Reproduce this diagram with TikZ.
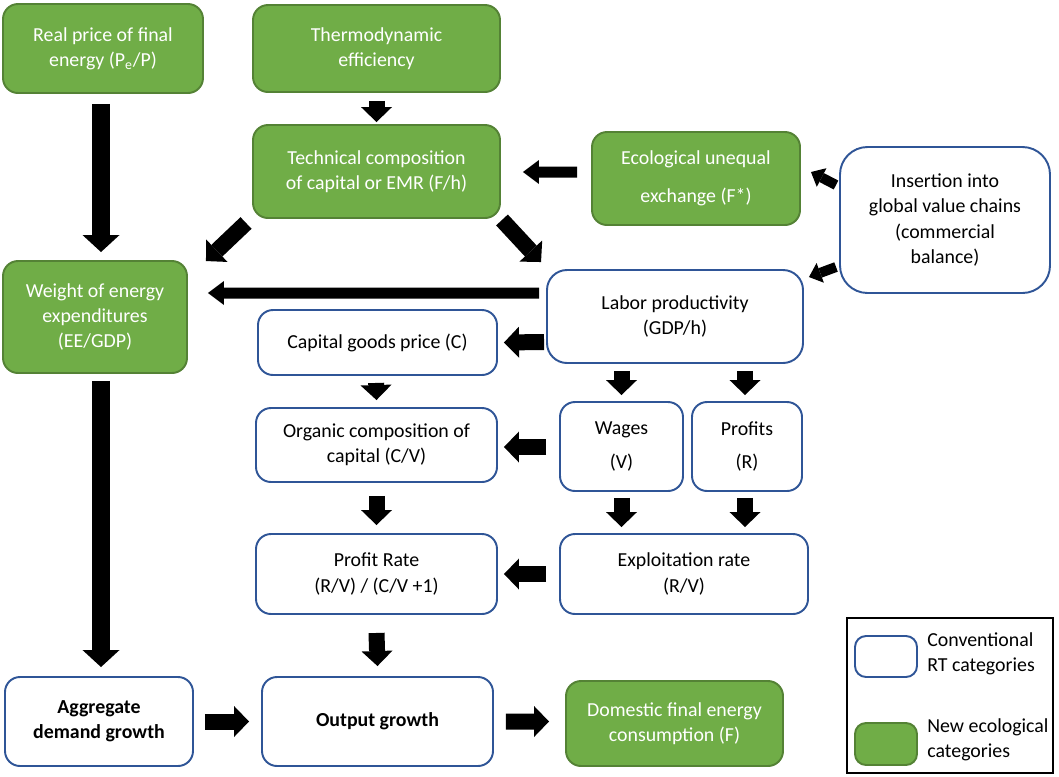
\documentclass[tikz,border=0pt]{standalone}
\usepackage{fontspec}
\setmainfont{Carlito}
\usetikzlibrary{arrows.meta,calc}
\definecolor{ecofill}{HTML}{70AD47}
\definecolor{ecoedge}{HTML}{548235}
\definecolor{rtedge}{HTML}{2F5597}

\begin{document}
\begin{tikzpicture}[
  box/.style={rounded corners=0.3cm, line width=1.1pt, align=center, inner sep=0pt,
              font=\fontsize{11.3}{14.3}\selectfont},
  gbox/.style={box, draw=ecoedge, fill=ecofill, text=white},
  wbox/.style={box, draw=rtedge, fill=white, text=black},
  blk/.style={line width=0.32cm, -{Triangle[length=0.3cm, width=0.62cm, line width=0pt]}},
  blkbig/.style={line width=0.37cm, -{Triangle[length=0.34cm, width=0.74cm, line width=0pt]}},
  blkthin/.style={line width=0.22cm, -{Triangle[length=0.32cm, width=0.48cm, line width=0pt]}},
  blksmall/.style={line width=0.2cm, -{Triangle[length=0.24cm, width=0.42cm, line width=0pt]}},
  legtext/.style={anchor=west, align=left, inner sep=0pt, font=\fontsize{11.3}{14.3}\selectfont}
]
\useasboundingbox (0,0) rectangle (21.18,-15.52);

% ecological categories (green) and conventional RT categories (white)
\node[gbox, minimum width=4cm, minimum height=1.78cm] (rp) at (2.06,-0.97)
  {Real price of final\\energy (P\textsubscript{e}/P)};
\node[gbox, minimum width=4.94cm, minimum height=1.74cm] (thermo) at (7.53,-0.97)
  {Thermodynamic\\efficiency};
\node[gbox, minimum width=4.94cm, minimum height=1.86cm] (tech) at (7.53,-3.43)
  {Technical composition\\of capital or EMR (F/h)};
\node[gbox, minimum width=4.16cm, minimum height=1.86cm] (eco) at (13.92,-3.57)
  {Ecological unequal\\[7pt]exchange (F*)};
\node[wbox, rounded corners=0.55cm, minimum width=4.2cm, minimum height=2.92cm] (ins) at (18.9,-4.4)
  {Insertion into\\global value chains\\(commercial\\balance)};
\node[gbox, minimum width=3.68cm, minimum height=2.24cm] (wt) at (1.9,-6.34)
  {Weight of energy\\expenditures\\(EE/GDP)};
\node[wbox, rounded corners=0.4cm, minimum width=5.12cm, minimum height=1.86cm] (lab) at (13.5,-6.33)
  {Labor productivity\\(GDP/h)};
\node[wbox, minimum width=4.78cm, minimum height=1.3cm] (cgp) at (7.55,-6.85)
  {Capital goods price (C)};
\node[wbox, minimum width=4.82cm, minimum height=1.48cm] (org) at (7.53,-8.9)
  {Organic composition of\\capital (C/V)};
\node[wbox, minimum width=2.46cm, minimum height=1.78cm] (wag) at (12.43,-8.93)
  {Wages\\[5pt](V)};
\node[wbox, minimum width=2.2cm, minimum height=1.78cm] (pro) at (14.94,-8.93)
  {Profits\\[5pt](R)};
\node[wbox, minimum width=4.82cm, minimum height=1.6cm] (prate) at (7.53,-11.48)
  {Profit Rate\\(R/V) / (C/V +1)};
\node[wbox, minimum width=4.96cm, minimum height=1.6cm] (expl) at (13.68,-11.48)
  {Exploitation rate\\(R/V)};
\node[wbox, minimum width=3.76cm, minimum height=1.78cm, font=\fontsize{11.3}{14.3}\selectfont\bfseries] (agg) at (1.98,-14.43)
  {Aggregate\\demand growth};
\node[wbox, minimum width=4.62cm, minimum height=1.78cm, font=\fontsize{11.3}{14.3}\selectfont\bfseries] (out) at (7.55,-14.43)
  {Output growth};
\node[gbox, minimum width=4.34cm, minimum height=1.7cm] (dom) at (13.49,-14.47)
  {Domestic final energy\\consumption (F)};

% legend
\node[draw=black, line width=0.9pt, minimum width=4.12cm, minimum height=3.1cm, inner sep=0pt] (leg) at (19.0,-13.91) {};
\node[wbox, rounded corners=0.22cm, minimum width=1.24cm, minimum height=0.82cm] (legrt) at (17.72,-13.13) {};
\node[gbox, rounded corners=0.22cm, minimum width=1.24cm, minimum height=0.84cm] (legeco) at (17.72,-14.88) {};
\node[legtext] (legrttext) at (18.54,-13.08) {Conventional\\RT categories};
\node[legtext] (legecotext) at (18.54,-14.8) {New ecological\\categories};

% causal links
\draw[blkbig] ($(rp.south)+(-0.04,-0.2)$) -- ($(rp.south |- wt.north)+(-0.04,0.16)$);
\draw[blkbig] ($(wt.south)+(0.12,-0.14)$) -- ($(wt.south |- agg.north)+(0.12,0.18)$);
\draw[blk] ($(thermo.south)+(0,-0.16)$) -- ($(tech.north)+(0,0.04)$);
\draw[blk] ($(tech.south west)+(-0.12,-0.08)$) -- ($(wt.north east)+(0.36,-0.02)$);
\draw[blk] ($(tech.south east)+(0.02,-0.02)$) -- ($(lab.north west)+(-0.1,0.14)$);
\draw[blkthin] ($(eco.west)+(-0.28,0.13)$) -- ($(tech.east)+(0.44,-0.01)$);
\draw[blksmall] ($(ins.west)+(-0.06,0.7)$) -- ($(eco.east)+(0.2,0.13)$);
\draw[blksmall] ($(ins.west)+(-0.06,-0.94)$) -- ($(lab.north east)+(0.1,-0.16)$);
\draw[blkthin] ($(lab.west)+(-0.14,0.47)$) -- ($(wt.east)+(0.4,0.48)$);
\draw[blk] ($(lab.west)+(-0.04,-0.51)$) -- ($(cgp.east)+(0.12,0)$);
\draw[blk] ($(cgp.south)+(-0.03,-0.14)$) -- ($(org.north)+(0,0.14)$);
\draw[blk] ($(wag.north |- lab.south)+(0,-0.14)$) -- ($(wag.north)+(0,0.12)$);
\draw[blk] ($(pro.north |- lab.south)+(-0.04,-0.14)$) -- ($(pro.north)+(-0.04,0.12)$);
\draw[blk] ($(wag.west)+(-0.26,-0.01)$) -- ($(org.east)+(0.12,-0.04)$);
\draw[blk] ($(wag.south)+(0,-0.12)$) -- ($(wag.south |- expl.north)+(0,0.12)$);
\draw[blk] ($(pro.south)+(-0.04,-0.12)$) -- ($(pro.south |- expl.north)+(-0.04,0.12)$);
\draw[blk] ($(org.south)+(0,-0.26)$) -- ($(prate.north)+(0,0.16)$);
\draw[blk] ($(expl.west)+(-0.26,0)$) -- ($(prate.east)+(0.12,0)$);
\draw[blk] ($(prate.south)+(0,-0.36)$) -- ($(out.north)+(0,0.2)$);
\draw[blk] ($(agg.east)+(0.22,0)$) -- ($(out.west)+(-0.24,0)$);
\draw[blk] ($(out.east)+(0.24,0)$) -- ($(dom.west)+(-0.32,0.04)$);
\end{tikzpicture}
\end{document}
